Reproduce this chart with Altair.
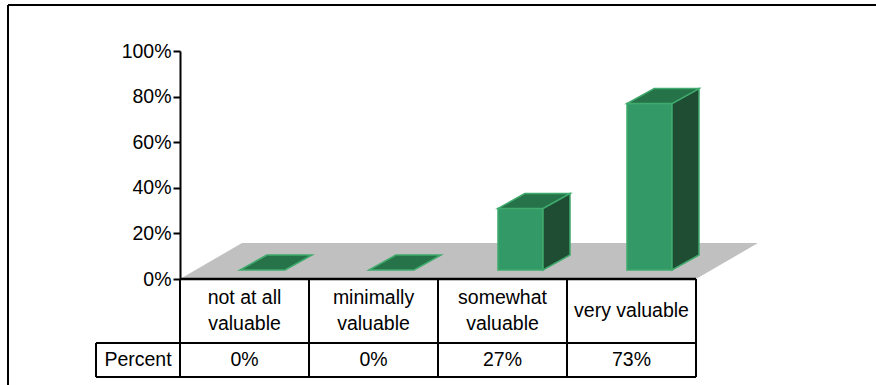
import altair as alt
import pandas as pd

# ---------------- data ----------------
categories = ["not at all\nvaluable", "minimally\nvaluable", "somewhat\nvaluable", "very valuable"]
values = [0, 0, 27, 73]
value_labels = ["0%", "0%", "27%", "73%"]
row_label = "Percent"
y_ticks = [0, 20, 40, 60, 80, 100]

# ---------------- layout / projection constants ----------------
FONT = "Liberation Sans"
FS = 19.5
LH = 26               # line height of wrapped labels (px)
PX_U = 129.0          # px per category column
PX_V = 2.28           # px per percent point
W, H = 696, 228
PAD = {"left": 180, "top": 51, "right": 0, "bottom": 106}
N = len(categories)

FD_U, FD_V = 62 / PX_U, 36 / PX_V      # floor depth
BO_U, BO_V = 18 / PX_U, 9 / PX_V       # bar front offset on the floor
BD_U, BD_V = 27 / PX_U, 15 / PX_V      # bar depth
BHW = 22.5 / PX_U                      # half bar width
ROW1 = -64 / PX_V                      # bottom of category row
ROW2 = -98 / PX_V                      # bottom of value row
LEFT = -84 / PX_U                      # left of "Percent" cell
FR_L = -172 / PX_U                     # outer frame, left edge
FR_T = 274 / PX_V                      # outer frame, top edge
FR_R = W / PX_U                        # outer frame runs to the right edge
FR_B = -106 / PX_V                     # outer frame runs to the bottom edge

FRONT, SIDE, TOP, EDGE, FLOOR = "#339966", "#1E4D33", "#267349", "#3FAA6C", "#C0C0C0"

xs = alt.Scale(domain=[0, W / PX_U], nice=False, zero=False)
ys = alt.Scale(domain=[0, 100], nice=False, zero=False)
y_axis = alt.Axis(values=y_ticks, labelExpr="datum.value + '%'", grid=False, title=None,
                  domainColor="black", domainWidth=2, tickColor="black",
                  tickWidth=2, tickSize=7, labelPadding=2, labelFont=FONT,
                  labelFontSize=FS, labelColor="black")


def X(f):
    return alt.X(f, scale=xs, axis=None)


def Y(f):
    return alt.Y(f, scale=ys, axis=y_axis)


# ---------------- derived geometry tables ----------------
floor_df = pd.DataFrame([
    {"y": 0.0, "xl": 0.0, "xr": float(N)},
    {"y": FD_V, "xl": FD_U, "xr": N + FD_U},
])

front_rows, side_rows, top_rows = [], [], []
for i, v in enumerate(values):
    cx = i + 0.5
    left, right = cx - BHW + BO_U, cx + BHW + BO_U
    yb, yt = BO_V, BO_V + v
    top_rows += [
        {"id": i, "y": yt, "xl": left, "xr": right},
        {"id": i, "y": yt + BD_V, "xl": left + BD_U, "xr": right + BD_U},
    ]
    if v > 0:
        front_rows.append({"id": i, "x": left, "x2": right, "y": yb, "y2": yt})
        side_rows += [
            {"id": i, "x": right, "y": yt, "y2": yb},
            {"id": i, "x": right + BD_U, "y": yt + BD_V, "y2": yb + BD_V},
        ]
front_df = pd.DataFrame(front_rows)
side_df = pd.DataFrame(side_rows)
top_df = pd.DataFrame(top_rows)

rule_rows = [
    {"x": 0.0, "x2": float(N), "y": 0.0, "y2": 0.0, "w": 2.5},
    {"x": LEFT, "x2": float(N), "y": ROW1, "y2": ROW1, "w": 2.0},
    {"x": LEFT, "x2": float(N), "y": ROW2, "y2": ROW2, "w": 2.0},
    {"x": LEFT, "x2": LEFT, "y": ROW1, "y2": ROW2, "w": 2.0},
    {"x": FR_L, "x2": FR_R, "y": FR_T, "y2": FR_T, "w": 2.0},
    {"x": FR_L, "x2": FR_L, "y": FR_T, "y2": FR_B, "w": 2.0},
]
for k in range(N + 1):
    rule_rows.append({"x": float(k), "x2": float(k), "y": 0.0, "y2": ROW2, "w": 2.0})
rules_df = pd.DataFrame(rule_rows)

text_rows = []
for i, (cat, lab) in enumerate(zip(categories, value_labels)):
    lines = cat.split("\n")
    n = len(lines)
    for j, ln in enumerate(lines):
        text_rows.append({"x": i + 0.5,
                          "y": ROW1 / 2 + (((n - 1) / 2 - j) * LH) / PX_V,
                          "t": ln})
    text_rows.append({"x": i + 0.5, "y": (ROW1 + ROW2) / 2, "t": lab})
text_rows.append({"x": LEFT / 2, "y": (ROW1 + ROW2) / 2, "t": row_label})
text_df = pd.DataFrame(text_rows)

# ---------------- layers ----------------
floor = alt.Chart(floor_df).mark_area(orient="horizontal", color=FLOOR).encode(
    y=Y("y:Q"), x=X("xl:Q"), x2="xr:Q",
)

front = alt.Chart(front_df).mark_rect(color=FRONT, stroke=EDGE, strokeWidth=1.5).encode(
    x=X("x:Q"), x2="x2:Q", y=Y("y:Q"), y2="y2:Q",
)

side = alt.Chart(side_df).mark_area(orient="vertical", color=SIDE, stroke=EDGE, strokeWidth=1.5).encode(
    x=X("x:Q"), y=Y("y:Q"), y2="y2:Q", detail="id:N",
)

top = alt.Chart(top_df).mark_area(orient="horizontal", color=TOP, stroke=EDGE, strokeWidth=1.5).encode(
    y=Y("y:Q"), x=X("xl:Q"), x2="xr:Q", detail="id:N",
)

rules = alt.Chart(rules_df).mark_rule(color="black").encode(
    x=X("x:Q"), x2="x2:Q", y=Y("y:Q"), y2="y2:Q",
    strokeWidth=alt.StrokeWidth("w:Q", scale=None, legend=None),
)

texts = alt.Chart(text_df).mark_text(font=FONT, fontSize=FS, color="black",
                                     align="center", baseline="middle").encode(
    x=X("x:Q"), y=Y("y:Q"), text="t:N",
)

chart = alt.layer(floor, front, side, top, rules, texts).properties(
    width=W, height=H, padding=PAD,
    autosize=alt.AutoSizeParams(type="none"),
    background="white",
).configure_view(stroke=None)

chart.save("out.html", embed_options={"renderer": "svg", "actions": False})
